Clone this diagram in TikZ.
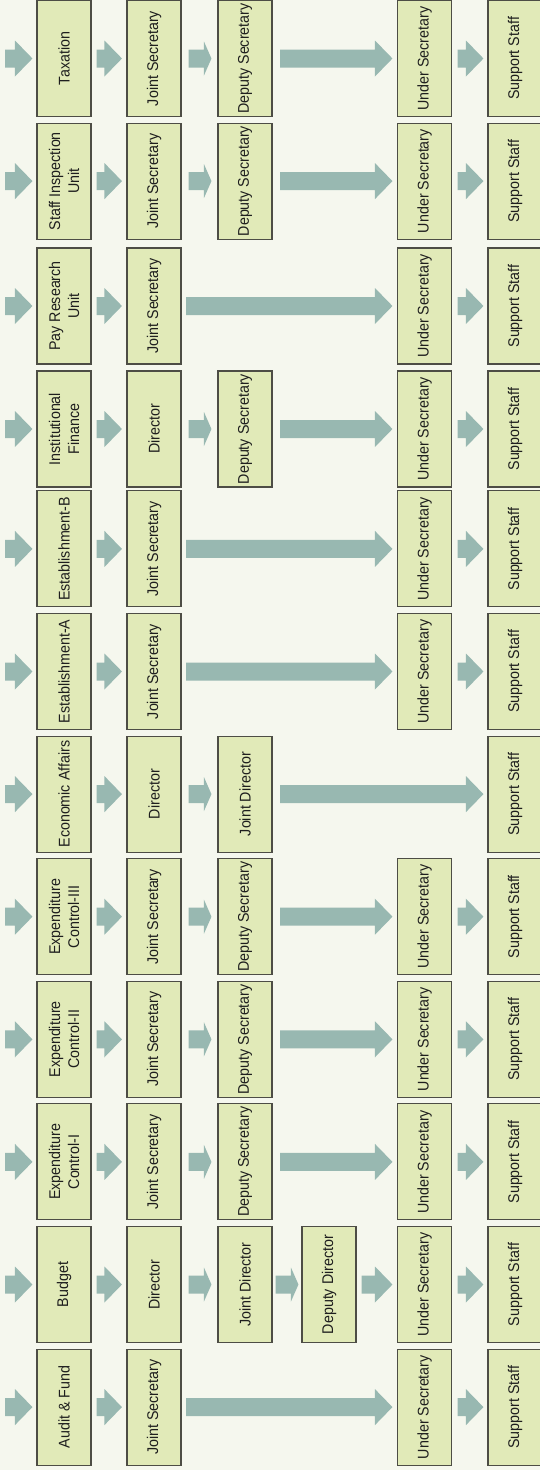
\documentclass[tikz,border=0pt]{standalone}
\usepackage{fontspec}
\setmainfont{Liberation Sans}[FakeStretch=0.92]
\usetikzlibrary{calc}
\definecolor{bgc}{HTML}{F5F7EE}
\definecolor{boxfill}{HTML}{E1EAB8}
\definecolor{boxline}{HTML}{4D4D45}
\definecolor{arrowc}{HTML}{98B8B1}
\definecolor{txtc}{HTML}{1E1E1E}
\newcommand{\boxfont}{\fontsize{15.5}{19}\selectfont}
% #1 from, #2 to, #3 start gap, #4 end gap, #5 head length, #6 head half width
\newcommand{\flowarrow}[6]{%
  \fill[arrowc] let \p1=(#1), \p2=(#2) in
    (\x1+#3pt,\y1+9pt) -- (\x2-#4pt-#5pt,\y1+9pt) -- (\x2-#4pt-#5pt,\y1+#6pt) --
    (\x2-#4pt,\y1) -- (\x2-#4pt-#5pt,\y1-#6pt) -- (\x2-#4pt-#5pt,\y1-9pt) --
    (\x1+#3pt,\y1-9pt) -- cycle;}
\newcommand{\inarrow}[2]{\flowarrow{#1}{#2.north}{0}{4}{17.5}{18}}
\newcommand{\stdarrow}[2]{\flowarrow{#1.south}{#2.north}{5}{4.5}{17.5}{18}}
\newcommand{\narrowarrow}[2]{\flowarrow{#1.south}{#2.north}{7}{6}{7.5}{17}}
\newcommand{\longarrow}[2]{\flowarrow{#1.south}{#2.north}{7.5}{4.5}{17.5}{18}}
\newcommand{\blongarrow}[2]{\flowarrow{#1.south}{#2.north}{4.5}{4.5}{17.5}{18}}
\newcommand{\lastarrow}[2]{\flowarrow{#1.south}{#2.north}{5.5}{4}{17.5}{18}}
\tikzset{
  box/.style={draw=boxline, fill=boxfill, line width=1.1pt, rotate=90,
    minimum width=116pt, minimum height=54pt, inner sep=1pt, align=center,
    font=\boxfont, text=txtc}
}
\begin{document}
\begin{tikzpicture}[x=1pt,y=1pt]
\useasboundingbox (0,0) rectangle (540,-1470);
\fill[bgc] (0,0) rectangle (540,-1470);

% Row 0: Taxation
\coordinate (r0in) at (5,-58.5);
\node[box] (r0a) at (64,-58.5) {Taxation};
\node[box] (r0b) at (154,-58.5) {Joint Secretary};
\node[box] (r0c) at (245,-58.5) {Deputy Secretary};
\node[box] (r0e) at (424.5,-58.5) {Under Secretary};
\node[box] (r0f) at (515,-58.5) {Support Staff};
\inarrow{r0in}{r0a}
\stdarrow{r0a}{r0b}
\narrowarrow{r0b}{r0c}
\longarrow{r0c}{r0e}
\lastarrow{r0e}{r0f}

% Row 1: Staff Inspection Unit
\coordinate (r1in) at (5,-181.1);
\node[box] (r1a) at (64,-181.1) {Staff Inspection\\Unit};
\node[box] (r1b) at (154,-181.1) {Joint Secretary};
\node[box] (r1c) at (245,-181.1) {Deputy Secretary};
\node[box] (r1e) at (424.5,-181.1) {Under Secretary};
\node[box] (r1f) at (515,-181.1) {Support Staff};
\inarrow{r1in}{r1a}
\stdarrow{r1a}{r1b}
\narrowarrow{r1b}{r1c}
\longarrow{r1c}{r1e}
\lastarrow{r1e}{r1f}

% Row 2: Pay Research Unit
\coordinate (r2in) at (5,-306);
\node[box] (r2a) at (64,-306) {Pay Research\\Unit};
\node[box] (r2b) at (154,-306) {Joint Secretary};
\node[box] (r2e) at (424.5,-306) {Under Secretary};
\node[box] (r2f) at (515,-306) {Support Staff};
\inarrow{r2in}{r2a}
\stdarrow{r2a}{r2b}
\blongarrow{r2b}{r2e}
\lastarrow{r2e}{r2f}

% Row 3: Institutional Finance
\coordinate (r3in) at (5,-429);
\node[box] (r3a) at (64,-429) {Institutional\\Finance};
\node[box] (r3b) at (154,-429) {Director};
\node[box] (r3c) at (245,-429) {Deputy Secretary};
\node[box] (r3e) at (424.5,-429) {Under Secretary};
\node[box] (r3f) at (515,-429) {Support Staff};
\inarrow{r3in}{r3a}
\stdarrow{r3a}{r3b}
\narrowarrow{r3b}{r3c}
\longarrow{r3c}{r3e}
\lastarrow{r3e}{r3f}

% Row 4: Establishment-B
\coordinate (r4in) at (5,-548.9);
\node[box] (r4a) at (64,-548.9) {Establishment-B};
\node[box] (r4b) at (154,-548.9) {Joint Secretary};
\node[box] (r4e) at (424.5,-548.9) {Under Secretary};
\node[box] (r4f) at (515,-548.9) {Support Staff};
\inarrow{r4in}{r4a}
\stdarrow{r4a}{r4b}
\blongarrow{r4b}{r4e}
\lastarrow{r4e}{r4f}

% Row 5: Establishment-A
\coordinate (r5in) at (5,-671.5);
\node[box] (r5a) at (64,-671.5) {Establishment-A};
\node[box] (r5b) at (154,-671.5) {Joint Secretary};
\node[box] (r5e) at (424.5,-671.5) {Under Secretary};
\node[box] (r5f) at (515,-671.5) {Support Staff};
\inarrow{r5in}{r5a}
\stdarrow{r5a}{r5b}
\blongarrow{r5b}{r5e}
\lastarrow{r5e}{r5f}

% Row 6: Economic Affairs
\coordinate (r6in) at (5,-794.1);
\node[box] (r6a) at (64,-794.1) {Economic Affairs};
\node[box] (r6b) at (154,-794.1) {Director};
\node[box] (r6c) at (245,-794.1) {Joint Director};
\node[box] (r6f) at (515,-794.1) {Support Staff};
\inarrow{r6in}{r6a}
\stdarrow{r6a}{r6b}
\narrowarrow{r6b}{r6c}
\flowarrow{r6c.south}{r6f.north}{7.5}{4}{17.5}{18}

% Row 7: Expenditure Control-III
\coordinate (r7in) at (5,-916.7);
\node[box] (r7a) at (64,-916.7) {Expenditure\\Control-III};
\node[box] (r7b) at (154,-916.7) {Joint Secretary};
\node[box] (r7c) at (245,-916.7) {Deputy Secretary};
\node[box] (r7e) at (424.5,-916.7) {Under Secretary};
\node[box] (r7f) at (515,-916.7) {Support Staff};
\inarrow{r7in}{r7a}
\stdarrow{r7a}{r7b}
\narrowarrow{r7b}{r7c}
\longarrow{r7c}{r7e}
\lastarrow{r7e}{r7f}

% Row 8: Expenditure Control-II
\coordinate (r8in) at (5,-1039.3);
\node[box] (r8a) at (64,-1039.3) {Expenditure\\Control-II};
\node[box] (r8b) at (154,-1039.3) {Joint Secretary};
\node[box] (r8c) at (245,-1039.3) {Deputy Secretary};
\node[box] (r8e) at (424.5,-1039.3) {Under Secretary};
\node[box] (r8f) at (515,-1039.3) {Support Staff};
\inarrow{r8in}{r8a}
\stdarrow{r8a}{r8b}
\narrowarrow{r8b}{r8c}
\longarrow{r8c}{r8e}
\lastarrow{r8e}{r8f}

% Row 9: Expenditure Control-I
\coordinate (r9in) at (5,-1161.9);
\node[box] (r9a) at (64,-1161.9) {Expenditure\\Control-I};
\node[box] (r9b) at (154,-1161.9) {Joint Secretary};
\node[box] (r9c) at (245,-1161.9) {Deputy Secretary};
\node[box] (r9e) at (424.5,-1161.9) {Under Secretary};
\node[box] (r9f) at (515,-1161.9) {Support Staff};
\inarrow{r9in}{r9a}
\stdarrow{r9a}{r9b}
\narrowarrow{r9b}{r9c}
\longarrow{r9c}{r9e}
\lastarrow{r9e}{r9f}

% Row 10: Budget
\coordinate (r10in) at (5,-1284.5);
\node[box] (r10a) at (64,-1284.5) {Budget};
\node[box] (r10b) at (154,-1284.5) {Director};
\node[box] (r10c) at (245,-1284.5) {Joint Director};
\node[box] (r10d) at (329,-1284.5) {Deputy Director};
\node[box] (r10e) at (424.5,-1284.5) {Under Secretary};
\node[box] (r10f) at (515,-1284.5) {Support Staff};
\inarrow{r10in}{r10a}
\stdarrow{r10a}{r10b}
\narrowarrow{r10b}{r10c}
\flowarrow{r10c.south}{r10d.north}{3}{3}{7.5}{17}
\stdarrow{r10d}{r10e}
\lastarrow{r10e}{r10f}

% Row 11: Audit & Fund
\coordinate (r11in) at (5,-1407.1);
\node[box] (r11a) at (64,-1407.1) {Audit \& Fund};
\node[box] (r11b) at (154,-1407.1) {Joint Secretary};
\node[box] (r11e) at (424.5,-1407.1) {Under Secretary};
\node[box] (r11f) at (515,-1407.1) {Support Staff};
\inarrow{r11in}{r11a}
\stdarrow{r11a}{r11b}
\blongarrow{r11b}{r11e}
\lastarrow{r11e}{r11f}
\end{tikzpicture}
\end{document}
